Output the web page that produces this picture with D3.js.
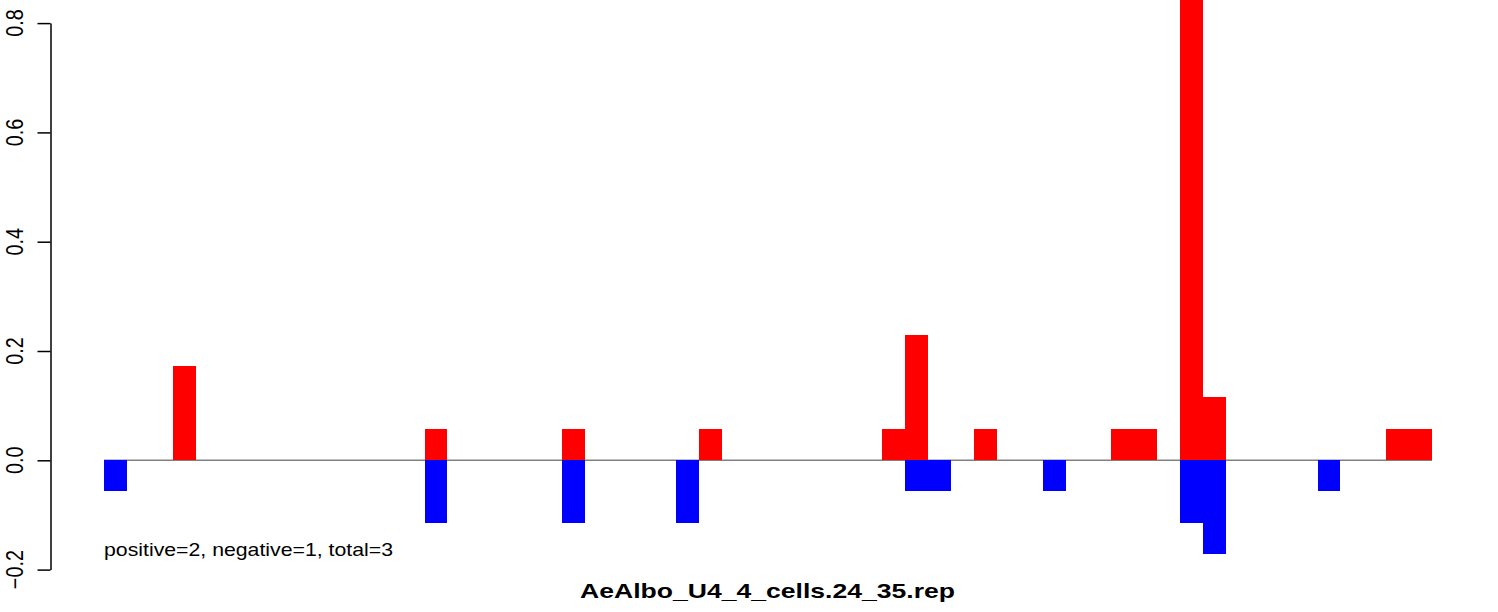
<!DOCTYPE html>
<html>
<head>
<meta charset="utf-8">
<script src="https://cdn.jsdelivr.net/npm/d3@7"></script>
<style>
  html, body { margin: 0; padding: 0; background: #fff; }
  svg { display: block; }
  text { font-family: "Liberation Sans", Arial, Helvetica, sans-serif; fill: #000; }
</style>
</head>
<body>
<svg id="chart" width="1498" height="612"></svg>
<script>
// ---- data ----
const binCount = 58;
const positiveBins   = [3, 14, 20, 26, 34, 35, 38, 44, 45, 47, 48, 56, 57];
const positiveValues = [0.172, 0.057, 0.057, 0.057, 0.057, 0.229, 0.057, 0.057, 0.057, 0.86, 0.115, 0.057, 0.057];
const negativeBins   = [0, 14, 20, 25, 35, 36, 41, 47, 48, 53];
const negativeValues = [-0.057, -0.115, -0.115, -0.115, -0.057, -0.057, -0.057, -0.115, -0.172, -0.057];
const yTicks      = [-0.2, 0.0, 0.2, 0.4, 0.6, 0.8];
const yTickLabels = ["\u22120.2", "0.0", "0.2", "0.4", "0.6", "0.8"];
const titleText = "AeAlbo_U4_4_cells.24_35.rep";
const noteText  = "positive=2, negative=1, total=3";

// ---- build ----
const svg = d3.select("#chart");
const bins = d3.range(binCount);

const x = d3.scaleBand().domain(bins).range([104, 1432]).padding(0);
const y = d3.scaleLinear().domain([-0.2, 0.8]).range([569.6, 23.1]);

const pos = positiveBins.map((b, i) => ({ bin: b, value: positiveValues[i] }));
const neg = negativeBins.map((b, i) => ({ bin: b, value: negativeValues[i] }));

// zero line
svg.append("line")
  .attr("x1", x.range()[0]).attr("x2", x.range()[1])
  .attr("y1", y(0)).attr("y2", y(0))
  .attr("stroke", "#808080").attr("stroke-width", 1.5);

// bars
svg.append("g").attr("shape-rendering", "crispEdges")
  .selectAll("rect").data(pos).join("rect")
  .attr("x", d => x(d.bin))
  .attr("width", x.bandwidth())
  .attr("y", d => y(d.value))
  .attr("height", d => y(0) - y(d.value))
  .attr("fill", "#ff0000");

svg.append("g").attr("shape-rendering", "crispEdges")
  .selectAll("rect").data(neg).join("rect")
  .attr("x", d => x(d.bin))
  .attr("width", x.bandwidth())
  .attr("y", y(0))
  .attr("height", d => y(d.value) - y(0))
  .attr("fill", "#0000ff");

// y axis
const axis = d3.axisLeft(y).tickValues(yTicks).tickSize(13).tickSizeOuter(0).tickFormat("");
const gAxis = svg.append("g").attr("transform", "translate(50.5,0)").call(axis);
gAxis.select(".domain").attr("stroke", "#000").attr("stroke-width", 1.5);
gAxis.selectAll(".tick line").attr("stroke", "#000").attr("stroke-width", 1.5);

svg.append("g").selectAll("text").data(yTicks).join("text")
  .attr("transform", d => `translate(22.7,${y(d)}) scale(1.18,1) rotate(-90)`)
  .attr("text-anchor", "middle")
  .attr("font-size", 19.8)
  .text((d, i) => yTickLabels[i]);

// annotation
svg.append("text")
  .attr("x", 104).attr("y", 555.5)
  .attr("font-size", 17.7)
  .attr("textLength", 289).attr("lengthAdjust", "spacingAndGlyphs")
  .text(noteText);

// title
svg.append("text")
  .attr("x", 767.5).attr("y", 598)
  .attr("text-anchor", "middle")
  .attr("font-size", 21)
  .attr("font-weight", "bold")
  .attr("textLength", 375).attr("lengthAdjust", "spacingAndGlyphs")
  .text(titleText);
</script>
</body>
</html>
